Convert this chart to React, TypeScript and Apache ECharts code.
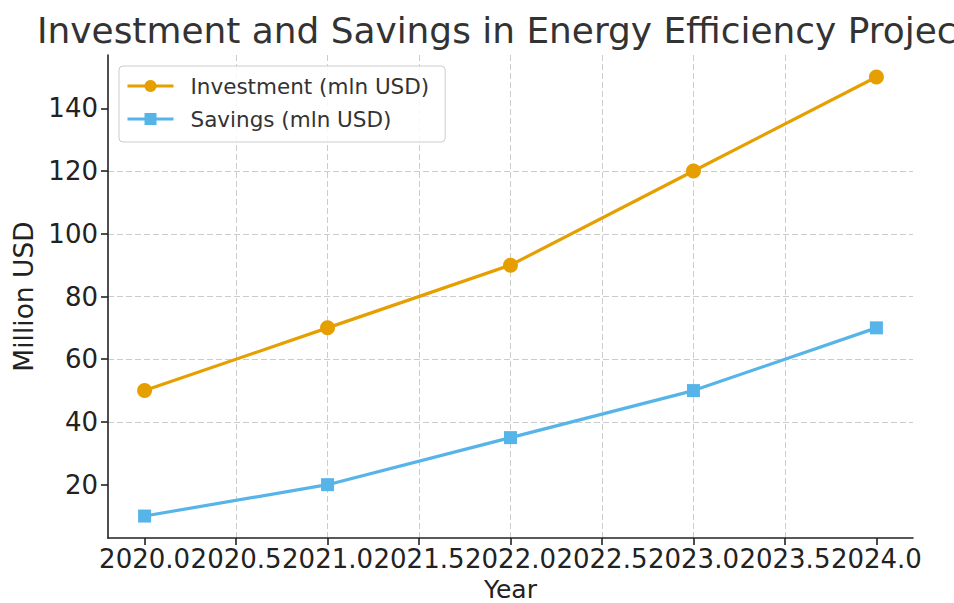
import React, { useEffect, useRef } from "react";
import * as echarts from "echarts";

const years = [2020, 2021, 2022, 2023, 2024];
const investment = [50, 70, 90, 120, 150];
const savings = [10, 20, 35, 50, 70];
const xTicks = [2020, 2020.5, 2021, 2021.5, 2022, 2022.5, 2023, 2023.5, 2024];
const yTicks = [20, 40, 60, 80, 100, 120, 140];

const TITLE = "Investment and Savings in Energy Efficiency Projects";
const FONT = "DejaVu Sans";

export default function App() {
  const ref = useRef<HTMLDivElement>(null);
  useEffect(() => {
    if (!ref.current) return;
    const chart = echarts.init(ref.current, null, { renderer: "svg" });
    const axisLine = { show: true, lineStyle: { color: "#222", width: 1.6 } };
    const axisTickBase = { show: true, inside: false, length: 7, lineStyle: { color: "#222", width: 1.6 } };
    const splitLine = {
      show: true,
      showMinLine: false,
      showMaxLine: false,
      lineStyle: { color: "#cccccc", width: 1, type: [6, 3] },
    };
    chart.setOption({
      animation: false,
      backgroundColor: "#ffffff",
      textStyle: { fontFamily: FONT },
      title: {
        text: TITLE,
        left: 37,
        top: 12,
        padding: 0,
        textStyle: { fontFamily: FONT, fontSize: 35.9, fontWeight: "normal", color: "#333333" },
      },
      grid: { left: 108, right: 41, top: 55, bottom: 65, containLabel: false, outerBoundsMode: "none" },
      legend: {
        orient: "vertical",
        left: 119,
        top: 66,
        padding: [9, 16, 12, 7],
        itemWidth: 46,
        itemHeight: 15,
        itemGap: 11,
        backgroundColor: "rgba(255,255,255,0.85)",
        borderColor: "#cccccc",
        borderWidth: 1,
        borderRadius: 4,
        lineStyle: { width: 3 },
        textStyle: { fontFamily: FONT, fontSize: 21.5, color: "#333333", padding: [0, 0, 0, 12] },
        data: ["Investment (mln USD)", "Savings (mln USD)"],
      },
      xAxis: {
        type: "value",
        min: 2019.8,
        max: 2024.2,
        name: "Year",
        nameLocation: "middle",
        nameGap: 38,
        nameTextStyle: { fontFamily: FONT, fontSize: 25, lineHeight: 26, color: "#222" },
        axisLine,
        axisTick: { ...axisTickBase, customValues: xTicks },
        axisLabel: {
          customValues: xTicks,
          margin: 8,
          fontFamily: FONT,
          fontSize: 26,
          color: "#222",
          formatter: (v: number) => v.toFixed(1),
        },
        splitLine,
      },
      yAxis: {
        type: "value",
        min: 3,
        max: 157,
        name: "Million USD",
        nameLocation: "middle",
        nameGap: 70,
        nameTextStyle: { fontFamily: FONT, fontSize: 26.5, color: "#222" },
        axisLine,
        axisTick: { ...axisTickBase, customValues: yTicks },
        axisLabel: {
          customValues: yTicks,
          margin: 10,
          fontFamily: FONT,
          fontSize: 26,
          color: "#222",
        },
        splitLine,
      },
      series: [
        {
          name: "Investment (mln USD)",
          type: "line",
          data: years.map((y, i) => [y, investment[i]]),
          symbol: "circle",
          symbolSize: 15,
          lineStyle: { color: "#E69F00", width: 3.2 },
          itemStyle: { color: "#E69F00" },
          z: 3,
        },
        {
          name: "Savings (mln USD)",
          type: "line",
          data: years.map((y, i) => [y, savings[i]]),
          symbol: "rect",
          symbolSize: 13,
          lineStyle: { color: "#56B4E9", width: 3.2 },
          itemStyle: { color: "#56B4E9" },
          z: 3,
        },
      ],
    });
    return () => chart.dispose();
  }, []);
  return (
    <div
      ref={ref}
      style={{ position: "fixed", left: 0, top: 0, width: 954, height: 603, background: "#fff" }}
    />
  );
}
